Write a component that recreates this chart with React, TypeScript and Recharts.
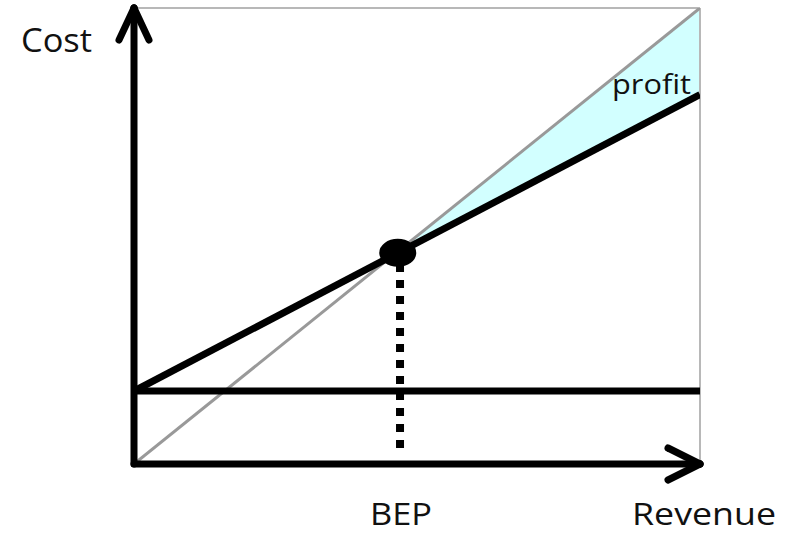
import React from "react";
import { ComposedChart, Line, Area, XAxis, YAxis, ReferenceLine, ReferenceDot } from "recharts";

// Data (arbitrary units, domain 0..10 on both axes)
const revenueX = [0, 10];
const revenueY = [0, 10];
const costX = [0, 10];
const totalCost = [1.6, 8.1];
const fixedCost = [1.6, 1.6];
const bepX = 4.66;
const bepY = 4.63;
const profitX = [4.6, 10];
const profitLow = [4.6, 8.1];
const profitHigh = [4.6, 10];
const dottedFrom = 0.35;
const dottedTo = 4.43;

const revenueData = revenueX.map((x, i) => ({ x, y: revenueY[i] }));
const totalData = costX.map((x, i) => ({ x, y: totalCost[i] }));
const fixedData = costX.map((x, i) => ({ x, y: fixedCost[i] }));
const profitData = profitX.map((x, i) => ({ x, r: [profitLow[i], profitHigh[i]] }));

const W = 798;
const H = 535;
const M = { top: 8, left: 134, right: 98, bottom: 71 };
const xPerPx = 10 / (W - M.left - M.right);
const yPerPx = 10 / (H - M.top - M.bottom);

const BLACK = "#000";
const AX = 7;

const Ellipse = (props: any) => (
  <ellipse cx={props.cx} cy={props.cy} rx={18.5} ry={14} fill={BLACK} />
);

export default function App() {
  const font = "'Open Sans', sans-serif";
  return (
    <div style={{ position: "absolute", left: 0, top: 0, width: W, height: H, background: "#fff" }}>
      <ComposedChart width={W} height={H} margin={M}>
        <XAxis dataKey="x" type="number" domain={[0, 10]} hide allowDataOverflow />
        <YAxis type="number" domain={[0, 10]} hide allowDataOverflow />
        <Area
          data={profitData}
          dataKey="r"
          type="linear"
          fill="#d2ffff"
          fillOpacity={1}
          stroke="none"
          isAnimationActive={false}
        />
        <ReferenceLine y={10} stroke="#b8b8b8" strokeWidth={2} ifOverflow="visible" />
        <ReferenceLine x={10} stroke="#b8b8b8" strokeWidth={2} ifOverflow="visible" />
        <Line
          data={revenueData}
          dataKey="y"
          type="linear"
          stroke="#999"
          strokeWidth={3}
          dot={false}
          isAnimationActive={false}
        />
        <Line
          data={totalData}
          dataKey="y"
          type="linear"
          stroke={BLACK}
          strokeWidth={AX}
          dot={false}
          isAnimationActive={false}
        />
        <Line
          data={fixedData}
          dataKey="y"
          type="linear"
          stroke={BLACK}
          strokeWidth={AX}
          dot={false}
          isAnimationActive={false}
        />
        <ReferenceLine
          segment={[{ x: 4.7, y: dottedFrom }, { x: 4.7, y: dottedTo }]}
          stroke={BLACK}
          strokeWidth={8}
          strokeDasharray="8 8"
          ifOverflow="visible"
        />
        <ReferenceDot x={bepX} y={bepY} r={18} shape={Ellipse} ifOverflow="visible" />
        {/* y axis with arrow */}
        <ReferenceLine segment={[{ x: 0, y: 0 }, { x: 0, y: 10 }]} stroke={BLACK} strokeWidth={AX} strokeLinecap="round" ifOverflow="visible" />
        <ReferenceLine segment={[{ x: 0, y: 10 }, { x: -15 * xPerPx, y: 10 - 32 * yPerPx }]} stroke={BLACK} strokeWidth={AX} strokeLinecap="round" ifOverflow="visible" />
        <ReferenceLine segment={[{ x: 0, y: 10 }, { x: 15 * xPerPx, y: 10 - 32 * yPerPx }]} stroke={BLACK} strokeWidth={AX} strokeLinecap="round" ifOverflow="visible" />
        {/* x axis with arrow */}
        <ReferenceLine segment={[{ x: 0, y: 0 }, { x: 10, y: 0 }]} stroke={BLACK} strokeWidth={AX} strokeLinecap="round" ifOverflow="visible" />
        <ReferenceLine segment={[{ x: 10, y: 0 }, { x: 10 - 32 * xPerPx, y: 16 * yPerPx }]} stroke={BLACK} strokeWidth={AX} strokeLinecap="round" ifOverflow="visible" />
        <ReferenceLine segment={[{ x: 10, y: 0 }, { x: 10 - 32 * xPerPx, y: -16 * yPerPx }]} stroke={BLACK} strokeWidth={AX} strokeLinecap="round" ifOverflow="visible" />
      </ComposedChart>
      <svg width={W} height={H} style={{ position: "absolute", left: 0, top: 0, pointerEvents: "none" }}>
        <text x={21} y={52} fontFamily={font} fontSize={32} fill="#111" textLength={71} lengthAdjust="spacingAndGlyphs">Cost</text>
        <text x={612} y={94} fontFamily={font} fontSize={27} fill="#111" textLength={79} lengthAdjust="spacingAndGlyphs">profit</text>
        <text x={370} y={525} fontFamily={font} fontSize={31} fill="#111" textLength={62} lengthAdjust="spacingAndGlyphs">BEP</text>
        <text x={632} y={525} fontFamily={font} fontSize={31} fill="#111" textLength={144} lengthAdjust="spacingAndGlyphs">Revenue</text>
      </svg>
    </div>
  );
}
